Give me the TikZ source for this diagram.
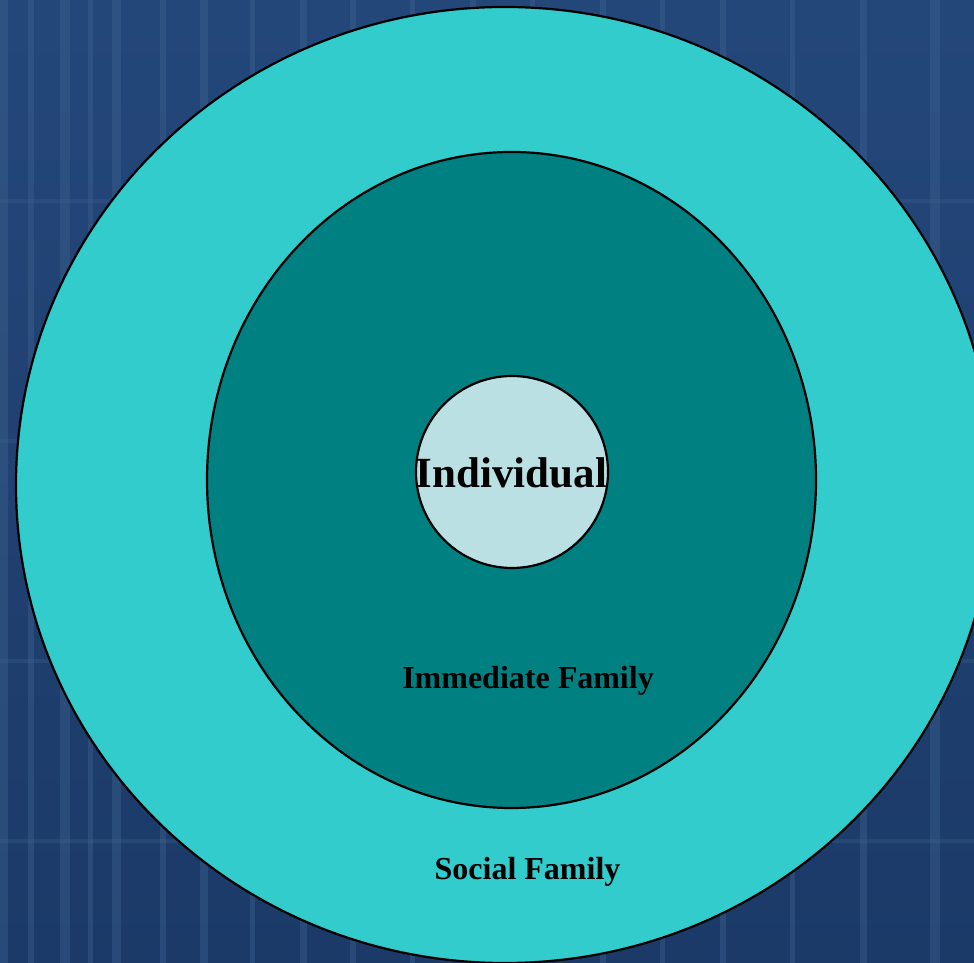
\documentclass[tikz,border=0pt]{standalone}
\usepackage{fontspec}
\setmainfont{Liberation Serif}
\usetikzlibrary{shapes.geometric}
\definecolor{bgblue}{HTML}{24477A}
\definecolor{bgstripe}{HTML}{3F6490}
\definecolor{bgdark}{HTML}{1B3A68}
\definecolor{socialc}{HTML}{33CCCC}
\definecolor{immc}{HTML}{008080}
\definecolor{indc}{HTML}{BBE0E3}
\tikzset{
  ring/.style={ellipse, draw=black, line width=2.2pt, inner sep=0pt, outer sep=0pt},
  lbl/.style={font=\bfseries\fontsize{32}{36}\selectfont, text=black, inner sep=0pt, anchor=base},
  stripe/.style={fill=bgstripe, draw=none, opacity=0.4}
}
\begin{document}
\begin{tikzpicture}[x=1pt,y=1pt]
\useasboundingbox (0,0) rectangle (974,963);
\clip (0,0) rectangle (974,963);
% background
\shade[top color=bgblue, bottom color=bgdark] (0,0) rectangle (974,963);
\foreach \xa/\w in {0/8, 28/6, 60/10, 88/5, 112/9, 160/6, 200/8, 250/5, 300/7, 350/6, 410/5, 470/6, 530/5, 600/6, 660/5, 720/6, 790/5, 860/7, 930/10}{
  \fill[stripe] (\xa,0) rectangle ++(\w,963);
}
\foreach \ya in {120, 300, 520, 760}{
  \fill[stripe, opacity=0.3] (0,\ya) rectangle ++(974,4);
}
% rings
\node[ring, fill=socialc, minimum width=978pt, minimum height=956pt] (social) at (505,478) {};
\node[ring, fill=immc, minimum width=609pt, minimum height=656pt] (immediate) at (511.5,483) {};
\node[ring, circle, fill=indc, minimum size=192pt] (individual) at (512,491) {};
% labels
\node[lbl, font=\bfseries\fontsize{43}{48}\selectfont] (indlabel) at (511.5,475) {Individual};
\node[lbl] (immlabel) at (528,274) {Immediate Family};
\node[lbl] (soclabel) at (527.5,83) {Social Family};
\end{tikzpicture}
\end{document}
